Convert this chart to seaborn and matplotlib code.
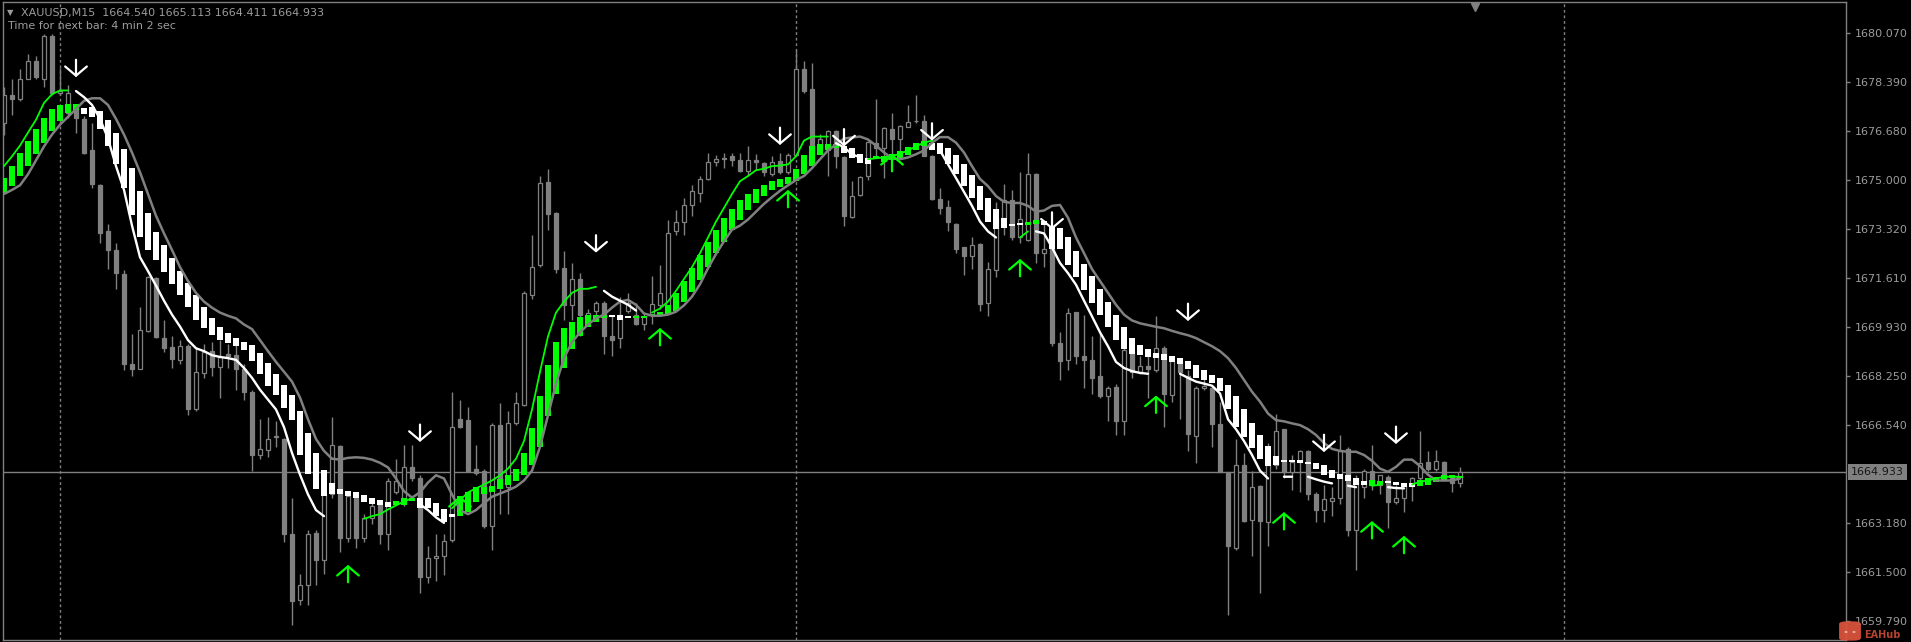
import numpy as np
import pandas as pd
import matplotlib
matplotlib.use("Agg")
import matplotlib.pyplot as plt
from matplotlib.patches import FancyBboxPatch, Circle
from matplotlib.transforms import blended_transform_factory
import seaborn as sns

nan = np.nan

# XAUUSD M15 candles (oldest -> newest)
opens = [
    1676.98, 1677.93, 1677.79, 1678.50, 1679.09, 1678.50, 1679.97, 1678.00, 1677.31, 1677.42,
    1677.11, 1676.02, 1674.82, 1673.23, 1672.59, 1671.75, 1668.66, 1668.50, 1669.78, 1671.63,
    1669.55, 1669.23, 1668.80, 1669.27, 1667.09, 1668.36, 1669.09, 1668.55, 1669.00, 1668.96,
    1668.50, 1667.70, 1665.52, 1665.69, 1666.13, 1666.07, 1662.80, 1660.51, 1661.02, 1662.82,
    1661.91, 1664.16, 1665.82, 1662.66, 1664.02, 1662.66, 1663.34, 1663.82, 1662.80, 1664.23,
    1663.82, 1665.11, 1664.71, 1661.30, 1661.98, 1662.05, 1662.59, 1666.75, 1666.72, 1665.05,
    1664.98, 1663.07, 1666.55, 1664.43, 1666.61, 1667.23, 1671.04, 1672.07, 1674.93, 1673.88,
    1671.97, 1670.70, 1671.59, 1670.29, 1670.50, 1670.77, 1669.64, 1669.55, 1670.50, 1670.36,
    1670.02, 1670.36, 1670.70, 1670.70, 1673.23, 1673.57, 1674.14, 1674.56, 1675.04, 1675.64,
    1675.72, 1675.82, 1675.68, 1675.31, 1675.68, 1675.58, 1675.20, 1675.65, 1675.27, 1675.88,
    1678.82, 1678.13, 1676.02, 1676.02, 1676.70, 1675.78, 1673.73, 1674.48, 1675.13, 1676.29,
    1676.09, 1676.77, 1676.43, 1676.84, 1677.02, 1677.04, 1675.82, 1674.34, 1674.08, 1673.50,
    1672.68, 1672.38, 1672.79, 1670.77, 1671.90, 1673.70, 1674.32, 1673.02, 1672.95, 1675.20,
    1672.50, 1672.61, 1669.37, 1668.80, 1670.46, 1668.93, 1668.80, 1668.25, 1667.57, 1667.87,
    1666.68, 1669.07, 1668.39, 1668.59, 1668.46, 1669.20, 1667.60, 1668.73, 1668.25, 1666.18,
    1667.84, 1667.84, 1666.59, 1664.95, 1662.32, 1665.18, 1663.27, 1664.46, 1663.21, 1665.18,
    1666.41, 1664.95, 1665.28, 1665.66, 1664.16, 1663.64, 1663.95, 1664.02, 1665.73, 1662.93,
    1664.43, 1664.98, 1664.50, 1664.77, 1663.91, 1664.02, 1664.46, 1664.71, 1665.28, 1665.05,
    1665.28, 1664.71, 1664.540,
]
highs = [
    1678.20, 1678.48, 1678.82, 1679.36, 1679.29, 1680.04, 1680.04, 1678.88, 1678.28, 1677.49,
    1677.20, 1676.98, 1674.85, 1673.50, 1672.82, 1671.89, 1669.68, 1670.64, 1671.69, 1671.66,
    1670.16, 1669.61, 1669.48, 1669.34, 1669.20, 1669.34, 1669.41, 1669.48, 1669.34, 1669.34,
    1668.66, 1667.75, 1666.75, 1666.82, 1666.68, 1666.10, 1664.02, 1661.43, 1662.93, 1662.93,
    1664.71, 1666.82, 1665.86, 1664.23, 1664.16, 1663.48, 1664.02, 1663.96, 1664.71, 1665.39,
    1665.86, 1665.86, 1664.84, 1662.39, 1662.80, 1662.80, 1667.70, 1667.43, 1667.16, 1665.86,
    1665.05, 1666.61, 1667.30, 1667.02, 1667.70, 1671.18, 1673.09, 1675.13, 1675.37, 1673.91,
    1672.54, 1672.14, 1671.79, 1670.57, 1670.84, 1670.84, 1670.36, 1670.98, 1671.11, 1670.77,
    1670.43, 1671.69, 1672.07, 1673.64, 1673.98, 1674.39, 1674.82, 1675.13, 1675.95, 1675.88,
    1675.95, 1675.95, 1675.95, 1676.16, 1675.91, 1675.61, 1675.82, 1675.95, 1675.95, 1679.50,
    1679.09, 1679.02, 1676.60, 1676.73, 1676.73, 1675.82, 1674.96, 1675.13, 1676.36, 1677.79,
    1676.84, 1677.32, 1676.91, 1677.59, 1677.93, 1677.25, 1675.85, 1674.73, 1674.32, 1673.52,
    1672.70, 1673.05, 1672.82, 1672.18, 1674.25, 1674.86, 1674.66, 1675.27, 1675.95, 1675.25,
    1673.64, 1672.64, 1669.75, 1670.59, 1670.46, 1670.36, 1669.61, 1669.68, 1667.91, 1667.98,
    1669.20, 1669.14, 1668.93, 1668.93, 1670.30, 1669.27, 1668.86, 1668.86, 1668.45, 1667.91,
    1668.39, 1667.91, 1667.36, 1664.95, 1666.07, 1665.59, 1664.98, 1664.50, 1665.93, 1666.95,
    1666.43, 1665.52, 1665.69, 1665.68, 1664.23, 1664.50, 1664.43, 1666.21, 1665.80, 1664.84,
    1665.05, 1665.86, 1664.84, 1664.84, 1664.50, 1664.57, 1664.77, 1666.34, 1665.66, 1665.69,
    1665.32, 1664.73, 1665.113,
]
lows = [
    1676.57, 1677.25, 1677.73, 1678.48, 1678.48, 1678.20, 1677.93, 1677.93, 1677.14, 1676.62,
    1675.90, 1674.73, 1672.82, 1671.93, 1671.25, 1668.45, 1668.25, 1668.48, 1669.75, 1669.55,
    1669.07, 1668.52, 1668.66, 1666.89, 1667.02, 1668.18, 1668.25, 1667.50, 1668.52, 1667.77,
    1667.43, 1664.98, 1665.39, 1665.46, 1665.80, 1662.52, 1659.66, 1660.34, 1660.34, 1661.02,
    1661.43, 1664.02, 1662.18, 1662.52, 1662.32, 1662.52, 1663.14, 1662.46, 1662.25, 1664.16,
    1663.75, 1664.64, 1660.75, 1661.09, 1661.16, 1661.37, 1662.52, 1666.45, 1664.95, 1664.84,
    1663.00, 1662.25, 1663.48, 1663.48, 1666.55, 1667.20, 1670.91, 1672.00, 1673.29, 1671.79,
    1670.16, 1670.16, 1669.61, 1670.02, 1670.36, 1669.00, 1668.93, 1669.20, 1670.43, 1670.00,
    1669.82, 1670.02, 1670.57, 1670.68, 1673.09, 1673.09, 1673.77, 1674.25, 1675.00, 1675.48,
    1675.41, 1675.48, 1675.27, 1675.13, 1675.34, 1675.13, 1675.13, 1675.20, 1675.20, 1675.82,
    1678.00, 1675.48, 1675.90, 1675.13, 1675.41, 1673.43, 1673.70, 1674.45, 1675.00, 1675.82,
    1675.07, 1675.82, 1675.82, 1676.84, 1676.98, 1675.82, 1674.32, 1673.84, 1673.23, 1672.48,
    1671.73, 1671.93, 1670.50, 1670.32, 1671.66, 1673.09, 1672.95, 1672.82, 1672.89, 1672.14,
    1672.00, 1669.27, 1668.11, 1668.45, 1668.66, 1667.84, 1667.64, 1667.50, 1666.68, 1666.20,
    1666.20, 1668.18, 1668.32, 1667.50, 1668.39, 1666.48, 1667.36, 1666.75, 1665.66, 1665.25,
    1667.77, 1665.80, 1664.93, 1660.00, 1662.25, 1663.21, 1662.05, 1660.75, 1662.39, 1665.05,
    1664.71, 1664.30, 1664.23, 1663.96, 1663.21, 1663.21, 1663.41, 1663.82, 1662.73, 1661.57,
    1664.02, 1664.30, 1664.16, 1663.00, 1663.82, 1663.55, 1663.95, 1664.64, 1664.98, 1664.98,
    1664.64, 1664.23, 1664.411,
]
closes = [
    1677.93, 1677.79, 1678.48, 1679.09, 1678.54, 1679.97, 1678.00, 1678.07, 1678.00, 1677.14,
    1675.95, 1674.86, 1673.19, 1672.59, 1671.79, 1668.66, 1668.50, 1669.82, 1671.66, 1669.59,
    1669.20, 1668.82, 1669.27, 1667.09, 1668.39, 1669.07, 1668.55, 1668.90, 1668.93, 1668.50,
    1667.70, 1665.52, 1665.73, 1666.07, 1666.15, 1662.80, 1660.48, 1661.02, 1662.80, 1661.91,
    1664.16, 1665.86, 1662.66, 1664.09, 1662.66, 1663.34, 1663.75, 1662.80, 1664.64, 1664.64,
    1665.11, 1664.71, 1661.30, 1661.98, 1662.05, 1662.55, 1666.48, 1666.48, 1664.98, 1664.91,
    1663.07, 1666.55, 1664.43, 1666.61, 1667.30, 1671.11, 1672.00, 1674.90, 1673.84, 1671.93,
    1670.70, 1671.59, 1670.36, 1670.43, 1670.77, 1669.61, 1669.50, 1670.36, 1670.77, 1670.02,
    1670.27, 1670.73, 1671.11, 1673.19, 1673.54, 1674.14, 1674.63, 1675.04, 1675.61, 1675.72,
    1675.75, 1675.68, 1675.31, 1675.68, 1675.61, 1675.27, 1675.64, 1675.27, 1675.86, 1678.82,
    1678.07, 1675.54, 1676.43, 1676.70, 1675.82, 1673.77, 1674.45, 1675.11, 1676.32, 1676.09,
    1676.81, 1676.43, 1676.87, 1677.00, 1677.04, 1675.82, 1674.36, 1674.04, 1673.54, 1672.64,
    1672.37, 1672.77, 1670.73, 1671.93, 1673.70, 1674.32, 1673.02, 1673.64, 1675.20, 1672.48,
    1672.64, 1669.37, 1668.77, 1670.40, 1668.93, 1668.80, 1668.18, 1667.57, 1667.84, 1666.68,
    1669.14, 1668.39, 1668.59, 1668.50, 1669.20, 1667.64, 1668.77, 1668.39, 1666.23, 1667.84,
    1667.91, 1666.59, 1664.95, 1662.39, 1665.18, 1663.23, 1664.43, 1663.23, 1665.18, 1666.34,
    1664.95, 1665.28, 1665.66, 1664.16, 1663.64, 1664.00, 1664.02, 1665.66, 1662.93, 1664.71,
    1664.98, 1664.50, 1664.82, 1663.91, 1664.05, 1664.50, 1664.73, 1665.25, 1665.05, 1665.32,
    1664.71, 1664.54, 1664.933,
]

# slow gray moving average
slow_ma = [
    1674.52, 1674.66, 1674.82, 1675.20, 1675.68, 1676.16, 1676.57, 1676.91, 1677.18, 1677.45,
    1677.73, 1677.82, 1677.82, 1677.59, 1677.11, 1676.57, 1675.95, 1675.27, 1674.52, 1673.77,
    1673.16, 1672.59, 1672.00, 1671.52, 1671.11, 1670.81, 1670.60, 1670.43, 1670.32, 1670.23,
    1670.02, 1669.86, 1669.48, 1669.10, 1668.73, 1668.39, 1668.05, 1667.50, 1666.75, 1666.07,
    1665.66, 1665.39, 1665.36, 1665.42, 1665.44, 1665.42, 1665.36, 1665.25, 1665.09, 1664.71,
    1664.27, 1664.05, 1664.23, 1664.57, 1664.82, 1664.71, 1664.16, 1663.62, 1663.48, 1663.62,
    1663.86, 1664.08, 1664.19, 1664.30, 1664.43, 1664.64, 1664.98, 1665.80, 1666.89, 1667.98,
    1668.86, 1669.41, 1669.75, 1670.02, 1670.23, 1670.36, 1670.60, 1670.81, 1670.87, 1670.70,
    1670.40, 1670.32, 1670.32, 1670.36, 1670.46, 1670.68, 1670.98, 1671.41, 1671.96, 1672.45,
    1672.89, 1673.29, 1673.43, 1673.64, 1673.91, 1674.18, 1674.41, 1674.63, 1674.82, 1675.00,
    1675.14, 1675.41, 1675.72, 1676.02, 1676.23, 1676.43, 1676.47, 1676.50, 1676.40, 1676.19,
    1675.95, 1675.75, 1675.72, 1675.78, 1675.89, 1676.02, 1676.29, 1676.48, 1676.48, 1676.29,
    1675.95, 1675.48, 1675.04, 1674.79, 1674.45, 1674.25, 1674.21, 1674.21, 1674.11, 1673.91,
    1673.95, 1674.11, 1674.14, 1673.70, 1673.02, 1672.48, 1671.93, 1671.52, 1671.11, 1670.70,
    1670.36, 1670.16, 1670.06, 1670.00, 1669.94, 1669.89, 1669.80, 1669.72, 1669.65, 1669.55,
    1669.41, 1669.27, 1669.10, 1668.86, 1668.52, 1668.11, 1667.70, 1667.36, 1666.95, 1666.72,
    1666.68, 1666.61, 1666.55, 1666.41, 1666.21, 1665.93, 1665.73, 1665.66, 1665.63, 1665.63,
    1665.52, 1665.32, 1665.05, 1664.94, 1665.11, 1665.36, 1665.36, 1665.14, 1664.84, 1664.64,
    1664.64, 1664.64, 1664.71,
]

# fast two-colour line (nan = not drawn)
fast_ma = [
    1675.48, 1675.82, 1676.19, 1676.64, 1677.08, 1677.66, 1677.96, 1678.09, 1678.09, 1678.07,
    1677.86, 1677.59, 1677.11, 1676.43, 1675.48, 1674.66, 1673.43, 1672.34, 1671.86, 1671.36,
    1670.84, 1670.36, 1669.95, 1669.48, 1669.20, 1669.10, 1668.96, 1668.90, 1668.86, 1668.80,
    1668.52, 1668.18, 1667.77, 1667.43, 1667.09, 1666.48, 1665.59, 1664.84, 1664.16, 1663.62,
    1663.41, nan, nan, nan, nan, 1663.32, 1663.41, 1663.48, 1663.64, 1663.78,
    1663.92, 1664.02, 1663.82, 1663.62, 1663.37, 1663.18, 1663.68, 1663.96, 1664.23, 1664.37,
    1664.50, 1664.64, 1664.82, 1665.05, 1665.39, 1666.00, 1667.09, 1668.39, 1669.61, 1670.43,
    1670.81, 1671.11, 1671.25, 1671.25, 1671.32, 1671.18, 1670.98, 1670.84, 1670.70, 1670.50,
    nan, 1670.43, 1670.57, 1670.81, 1671.18, 1671.59, 1672.00, 1672.48, 1673.02, 1673.57,
    1674.04, 1674.52, 1674.96, 1675.14, 1675.34, 1675.39, 1675.48, 1675.50, 1675.54, 1675.82,
    1676.36, 1676.50, 1676.50, 1676.50, 1676.27, 1676.13, 1675.89, 1675.78, 1675.72, 1675.75,
    1675.78, 1675.82, 1675.91, 1676.02, 1676.16, 1676.29, 1676.36, 1676.02, 1675.54, 1675.07,
    1674.59, 1674.11, 1673.57, 1673.23, 1673.02, nan, nan, 1673.02, 1673.23, 1673.23,
    1673.16, 1672.68, 1672.14, 1671.79, 1671.39, 1670.84, 1670.30, 1669.75, 1669.27, 1668.73,
    1668.52, 1668.41, 1668.35, 1668.32, nan, nan, nan, 1668.32, 1668.18, 1668.05,
    1667.98, 1667.91, 1667.64, 1666.75, 1666.41, 1666.00, 1665.52, 1664.98, 1664.71, nan,
    1664.77, 1664.77, nan, 1664.77, 1664.68, 1664.60, 1664.54, nan, 1664.46, 1664.41,
    nan, 1664.46, 1664.49, 1664.41, 1664.38, 1664.37, 1664.50, 1664.60, 1664.64, 1664.71,
    1664.77, 1664.77, 1664.77,
]
fast_runs = [("g", 9), ("w", 36), ("g", 7), ("w", 4), ("g", 19), ("w", 6), ("g", 23),
             ("w", 4), ("g", 9), ("w", 10), ("g", 2), ("w", 42), ("g", 2), ("w", 3), ("g", 7)]

# histogram bars of the indicator (top / bottom price)
hist_top = [
    1675.07, 1675.48, 1675.95, 1676.36, 1676.77, 1677.14, 1677.45, 1677.59, 1677.63, 1677.63,
    1677.49, 1677.52, 1677.38, 1677.07, 1676.61, 1676.06, 1675.41, 1674.63, 1673.87, 1673.20,
    1672.75, 1672.30, 1671.86, 1671.45, 1671.02, 1670.61, 1670.23, 1669.95, 1669.71, 1669.57,
    1669.41, 1669.31, 1669.03, 1668.69, 1668.32, 1667.95, 1667.60, 1667.02, 1666.27, 1665.59,
    1665.01, 1664.57, 1664.36, 1664.27, 1664.23, 1664.13, 1664.02, 1663.96, 1663.89, 1663.92,
    1664.02, 1664.05, 1664.05, 1664.02, 1663.86, 1663.64, 1663.48, 1664.09, 1664.23, 1664.43,
    1664.43, 1664.46, 1664.68, 1664.84, 1665.05, 1665.59, 1666.45, 1667.54, 1668.62, 1669.41,
    1669.89, 1670.09, 1670.27, 1670.36, 1670.36, 1670.36, 1670.32, 1670.36, 1670.30, 1670.30,
    1670.32, 1670.36, 1670.46, 1670.70, 1671.11, 1671.52, 1671.96, 1672.41, 1672.86, 1673.29,
    1673.68, 1674.00, 1674.32, 1674.52, 1674.69, 1674.84, 1674.96, 1675.04, 1675.11, 1675.38,
    1675.86, 1676.16, 1676.23, 1676.23, 1676.23, 1676.19, 1676.09, 1675.91, 1675.75, 1675.82,
    1675.82, 1675.89, 1675.99, 1676.13, 1676.29, 1676.36, 1676.27, 1676.29, 1676.12, 1675.86,
    1675.54, 1675.18, 1674.79, 1674.39, 1674.00, 1673.68, 1673.50, 1673.50, 1673.57, 1673.64,
    1673.59, 1673.43, 1673.36, 1673.02, 1672.57, 1672.11, 1671.69, 1671.25, 1670.81, 1670.36,
    1669.93, 1669.57, 1669.31, 1669.18, 1669.04, 1669.00, 1668.93, 1668.85, 1668.77, 1668.63,
    1668.45, 1668.28, 1668.18, 1667.95, 1667.54, 1667.09, 1666.61, 1666.20, 1665.82, 1665.50,
    1665.36, 1665.33, 1665.33, 1665.28, 1665.25, 1665.18, 1665.01, 1664.87, 1664.82, 1664.71,
    1664.64, 1664.64, 1664.64, 1664.64, 1664.60, 1664.54, 1664.54, 1664.64, 1664.71, 1664.77,
    1664.82, 1664.82, 1664.80,
]
hist_bot = [
    1674.52, 1674.79, 1675.13, 1675.48, 1675.89, 1676.29, 1676.70, 1677.04, 1677.32, 1677.41,
    1677.28, 1677.18, 1676.77, 1676.16, 1675.54, 1674.73, 1673.81, 1673.05, 1672.59, 1672.25,
    1671.84, 1671.43, 1671.02, 1670.61, 1670.16, 1669.89, 1669.65, 1669.50, 1669.37, 1669.27,
    1669.14, 1668.77, 1668.32, 1667.91, 1667.60, 1667.13, 1666.72, 1665.52, 1664.87, 1664.36,
    1664.09, 1664.16, 1664.16, 1664.09, 1664.02, 1663.89, 1663.82, 1663.78, 1663.72, 1663.78,
    1663.81, 1663.92, 1663.68, 1663.68, 1663.41, 1663.21, 1663.37, 1663.41, 1663.55, 1663.89,
    1664.16, 1664.23, 1664.36, 1664.50, 1664.64, 1664.84, 1665.18, 1665.80, 1666.85, 1667.64,
    1668.52, 1669.18, 1669.61, 1669.95, 1670.12, 1670.23, 1670.27, 1670.16, 1670.23, 1670.23,
    1670.25, 1670.30, 1670.30, 1670.36, 1670.50, 1670.81, 1671.14, 1671.55, 1672.00, 1672.48,
    1672.86, 1673.29, 1673.64, 1673.98, 1674.21, 1674.45, 1674.66, 1674.77, 1674.86, 1674.96,
    1675.20, 1675.50, 1675.86, 1676.02, 1676.09, 1675.95, 1675.75, 1675.58, 1675.54, 1675.72,
    1675.61, 1675.68, 1675.75, 1675.86, 1676.02, 1676.16, 1676.02, 1675.89, 1675.54, 1675.20,
    1674.79, 1674.39, 1673.98, 1673.57, 1673.32, 1673.36, 1673.40, 1673.46, 1673.46, 1673.50,
    1673.46, 1672.61, 1672.61, 1672.07, 1671.66, 1671.21, 1670.77, 1670.36, 1669.95, 1669.50,
    1669.18, 1669.00, 1668.96, 1668.90, 1668.86, 1668.80, 1668.73, 1668.66, 1668.50, 1668.18,
    1668.09, 1668.00, 1667.73, 1667.09, 1666.50, 1666.14, 1665.77, 1665.39, 1665.14, 1665.18,
    1665.28, 1665.28, 1665.25, 1665.22, 1665.05, 1664.84, 1664.71, 1664.68, 1664.64, 1664.50,
    1664.50, 1664.46, 1664.50, 1664.57, 1664.50, 1664.41, 1664.43, 1664.46, 1664.50, 1664.60,
    1664.64, 1664.71, 1664.73,
]
hist_runs = [("g", 10), ("w", 39), ("g", 3), ("w", 5), ("g", 19), ("w", 3), ("g", 26),
             ("w", 4), ("g", 7), ("w", 12), ("g", 2), ("w", 41), ("g", 2), ("w", 4), ("g", 6)]

# signal arrows: bar index and price of the arrow tip
sell_bars = [9, 52, 74, 97, 105, 116, 131, 148, 165, 174]
sell_tips = [1678.55, 1665.97, 1672.50, 1676.21, 1676.16, 1676.36, 1673.29, 1670.14, 1665.62, 1665.90]
buy_bars = [43, 57, 82, 98, 111, 127, 144, 160, 171, 175]
buy_tips = [1661.73, 1664.11, 1669.90, 1674.66, 1675.90, 1672.28, 1667.57, 1663.55, 1663.24, 1662.73]

price_ticks = [1680.070, 1678.390, 1676.680, 1675.000, 1673.320, 1671.610,
               1669.930, 1668.250, 1666.540, 1663.180, 1661.500, 1659.790]
last_price = 1664.933
day_separators = [7, 99, 195]
header = "XAUUSD,M15  1664.540 1665.113 1664.411 1664.933"
timer_text = "Time for next bar: 4 min 2 sec"

GRAY = "#808080"
TXT = "#9c9c9c"
COL = {"g": "#00ff00", "w": "#ffffff"}

sns.set_theme(style="dark", rc={"axes.facecolor": "black", "figure.facecolor": "black"})
plt.rcParams["font.family"] = ["DejaVu Sans"]

W, H = 1911, 642
fig = plt.figure(figsize=(W / 100, H / 100), dpi=100)
ax = fig.add_axes([3 / W, 2 / H, 1843 / W, 638 / H])
ax.set_facecolor("black")
ax.grid(False)

o = np.array(opens)
c = np.array(closes)
x = np.arange(len(c))
df = pd.DataFrame({"bar": x, "slow": slow_ma})

# background lines
ax.axhline(last_price, color=GRAY, lw=1, zorder=0)
for d in day_separators:
    ax.axvline(d, color=GRAY, lw=1, ls=(0, (2, 2)), zorder=0)

# candles
ax.vlines(x, lows, highs, color=GRAY, lw=1, zorder=1)
bull = c >= o
ax.bar(x, np.maximum(np.abs(c - o), 0.03), bottom=np.minimum(o, c), width=0.62,
       color=np.where(bull, "black", GRAY), edgecolor=GRAY, linewidth=0.9, zorder=2)

# indicator histogram
hist_col = np.repeat([COL[k] for k, _ in hist_runs], [n for _, n in hist_runs])
top = np.array(hist_top)
bot = np.array(hist_bot)
ax.bar(x, np.maximum(top - bot, 0.07), bottom=bot, width=0.7, color=hist_col,
       linewidth=0, zorder=3)

# slow line
sns.lineplot(data=df, x="bar", y="slow", ax=ax, color=GRAY, lw=1.8, zorder=4)

# fast line, one colour per run
fast = np.array(fast_ma)
start = 0
for k, n in fast_runs:
    ax.plot(x[start:start + n], fast[start:start + n], color=COL[k],
            lw=1.3 if k == "g" else 1.7, zorder=5)
    start += n

# arrows
head = "->,head_length=0.55,head_width=0.65"
for b, p in zip(sell_bars, sell_tips):
    ax.annotate("", xy=(b, p), xytext=(0, 12.5), textcoords="offset points",
                arrowprops=dict(arrowstyle=head, color="white", lw=1.6,
                                shrinkA=0, shrinkB=0), zorder=6)
for b, p in zip(buy_bars, buy_tips):
    ax.annotate("", xy=(b, p), xytext=(0, -12.5), textcoords="offset points",
                arrowprops=dict(arrowstyle=head, color="#00ff00", lw=1.6,
                                shrinkA=0, shrinkB=0), zorder=6)

ax.set_xlim(-0.125, 230.25)
ax.set_ylim(1659.14, 1681.14)
ax.set_xlabel("")
ax.set_ylabel("")
ax.set_xticks([])
ax.yaxis.tick_right()
ax.set_yticks(price_ticks)
ax.set_yticklabels([f"{t:.3f}" for t in price_ticks])
ax.tick_params(axis="y", right=True, length=3, width=1, color=GRAY, pad=3,
               labelsize=8, labelcolor=TXT)
for s in ax.spines.values():
    s.set_visible(True)
    s.set_color(GRAY)
    s.set_linewidth(1)

# last price box on the scale
trans = blended_transform_factory(ax.transAxes, ax.transData)
ax.text(1.0028, last_price, f"{last_price:.3f}", transform=trans, ha="left", va="center",
        fontsize=8, color="#161616",
        bbox=dict(boxstyle="square,pad=0.3", fc=GRAY, ec="none"), clip_on=False, zorder=7)

# chart shift marker
ax.plot([183.9], [0.992], marker="v", ms=6, color=GRAY,
        transform=ax.get_xaxis_transform(), clip_on=False)

# header texts
fig.text(7 / W, 1 - 13 / H, "\u25bc", fontsize=6, color=TXT, va="center", ha="left")
fig.text(21 / W, 1 - 13 / H, header, fontsize=8, color=TXT, va="center", ha="left")
fig.text(8 / W, 1 - 26 / H, timer_text, fontsize=8, color=TXT, va="center", ha="left")

# watermark logo in the corner (icon drawn as shapes, name kept below the last label)
fig.patches.append(FancyBboxPatch((1841 / W, 1 - 640 / H), 18 / W, 18 / H,
                                  boxstyle="round,pad=0.001,rounding_size=0.004",
                                  transform=fig.transFigure, fc="#d9533c", ec="none",
                                  alpha=0.95, zorder=10))
for ex in (1846, 1854):
    fig.patches.append(Circle((ex / W, 1 - 632 / H), 1.6 / W, transform=fig.transFigure,
                              fc="white", ec="none", zorder=11))
fig.text(1864 / W, 1 - 634.5 / H, "EAHub", fontsize=7, fontweight="bold",
         color="#b8442f", ha="left", va="center", zorder=11)

fig.savefig("out.png", dpi=100, facecolor="black")
